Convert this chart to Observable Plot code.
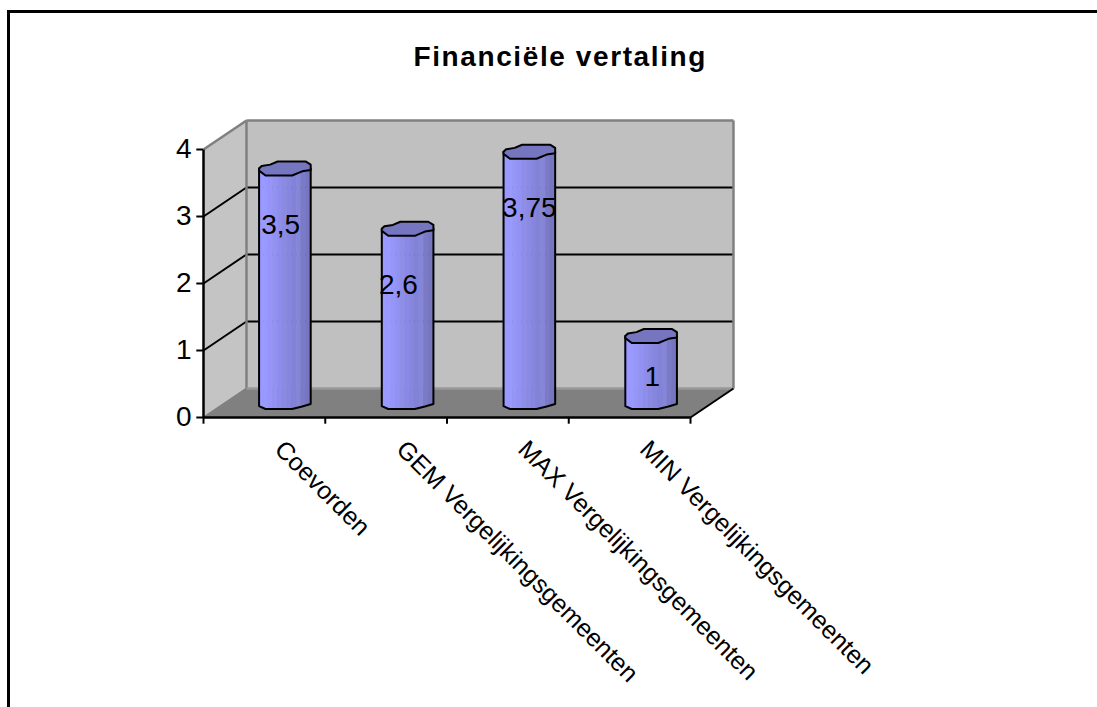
<!DOCTYPE html>
<html><head><meta charset="utf-8">
<script src="https://cdn.jsdelivr.net/npm/d3@7"></script>
<script src="https://cdn.jsdelivr.net/npm/@observablehq/plot@0.6"></script>
<style>html,body{margin:0;padding:0;background:#fff;overflow:hidden}
#frame{position:absolute;left:7px;top:10px;right:0;bottom:0;border-left:3px solid #000;border-top:3px solid #000;pointer-events:none}
#c{position:absolute;left:0;top:0}</style></head>
<body><div id="c"></div><div id="frame"></div>
<script>
const categories = ["Coevorden","GEM Vergelijkingsgemeenten","MAX Vergelijkingsgemeenten","MIN Vergelijkingsgemeenten"];
const values = [3.5,2.6,3.75,1];
const valueLabels = ["3,5","2,6","3,75","1"];
const yTicks = [0,1,2,3,4];
const title = "Financiële vertaling";

// 3D geometry, in data units
const dx = 0.353, dy = 0.433;          // depth of the box
const rx = 0.212, ry = 0.105;          // cylinder radii
const topShape = [[-1,0],[-.9,-.35],[-.57,-.55],[-.28,-1],[.8,-1],[1,-.55],[1,.2],[.67,.4],[.28,1],[-.75,1],[-1,.3]];
const frontEdge = [[-1,.45],[-.75,.85],[.28,.85],[.67,.5],[1,.15]];
const bands = ["#9999ff","#9999ff","#9696fa","#9292f2","#8e8eea","#8a8ae4","#8686de","#8282d8","#8686d8","#7a7ac6","#7575c0"];
const frontAt = u => { for (let i=1;i<frontEdge.length;i++){ if(u<=frontEdge[i][0]){const [a,b]=frontEdge[i-1],[c,d]=frontEdge[i];return b+(d-b)*(u-a)/(c-a);} } return .15; };

const cx = i => i + .5 + dx/2 - (i===0 ? .008 : 0);
const bandRects = [];
categories.forEach((c,i)=>bands.forEach((col,k)=>{
  const u0=-1+2*k/bands.length,u1=-1+2*(k+1)/bands.length,um=(u0+u1)/2;
  bandRects.push({x1:cx(i)+u0*rx,x2:cx(i)+u1*rx,y1:dy/2-frontAt(um)*ry,y2:values[i]+dy/2,col});
}));
const tops = categories.flatMap((c,i)=>topShape.concat([topShape[0]]).map(([a,b])=>({i,x:cx(i)+a*rx,y:values[i]+dy/2-b*ry})));
const bodyOutline = categories.flatMap((c,i)=>[
  [-1,values[i],0],...frontEdge.map(([a,b])=>[a,0,b]),[1,values[i],0]
].map(([a,v,b])=>({i,x:cx(i)+a*rx,y:v+dy/2-b*ry})));

const poly = (pts,fill)=>Plot.line(pts.concat([pts[0]]).map(([x,y])=>({x,y})),{x:"x",y:"y",fill,stroke:null,curve:"linear"});
const seg = (a,b,stroke,w)=>Plot.line([{x:a[0],y:a[1]},{x:b[0],y:b[1]}],{x:"x",y:"y",stroke,strokeWidth:w,strokeLinecap:"butt"});

const labelNudge=[[-.035,-.62],[-.075,-.63],[0,-.63],[.01,-.4]];
const marks=[
  poly([[dx,dy],[dx,4+dy],[4+dx,4+dy],[4+dx,dy]],"#c0c0c0"),
  poly([[0,0],[0,4],[dx,4+dy],[dx,dy]],"#c4c4c4"),
  poly([[0,0],[4,0],[4+dx,dy],[dx,dy]],"#808080"),
  ...[1,2,3].map(v=>seg([dx,v+dy],[4+dx,v+dy],"#000",2)),
  ...[1,2,3].map(v=>seg([0,v],[dx,v+dy],"#000",2)),
  seg([dx,dy],[dx,4+dy],"#808080",2.5),
  seg([dx,4+dy],[4+dx,4+dy],"#808080",2.5),
  seg([4+dx,4+dy],[4+dx,dy],"#808080",2.5),
  seg([dx,dy],[4+dx,dy],"#999",2.5),
  seg([0,4],[dx,4+dy],"#808080",2.5),
  seg([0,0],[dx,dy],"#808080",2),
  Plot.rect(bandRects,{x1:"x1",x2:"x2",y1:"y1",y2:"y2",fill:"col",stroke:"col",strokeWidth:.5}),
  Plot.line(bodyOutline,{x:"x",y:"y",z:"i",stroke:"#000",strokeWidth:2,curve:"linear"}),
  Plot.line(tops,{x:"x",y:"y",z:"i",fill:"#7676c0",stroke:"#000",strokeWidth:2,curve:"linear"}),
  seg([4,0],[4+dx,dy],"#000",2),
  seg([0,0],[4,0],"#000",2.5),
  seg([0,0],[0,4],"#000",2.5),
  Plot.ruleY(yTicks,{y:d=>d,x1:()=>-.055,x2:()=>0,stroke:"#000",strokeWidth:2}),
  Plot.text(yTicks,{y:d=>d,x:()=>0,text:d=>String(d),textAnchor:"end",dx:-12,fontSize:28,fill:"#000"}),
  Plot.ruleX([0,1,2,3,4],{x:d=>d,y1:()=>0,y2:()=>-.1,stroke:"#000",strokeWidth:2}),
  Plot.text(categories,{x:(d,i)=>i+.62,y:()=>-.41,text:d=>d,rotate:45,textAnchor:"start",fontSize:25,fill:"#000"}),
  Plot.text(values,{x:(d,i)=>cx(i)+labelNudge[i][0],y:(d,i)=>d+labelNudge[i][1],text:(d,i)=>valueLabels[i],fontSize:28,fill:"#000"}),
  Plot.text([title],{x:()=>2.93,y:()=>5.38,text:d=>d,fontWeight:"bold",fontSize:28,fill:"#000"})
];

const plot=Plot.plot({
  width:1097,height:707,
  marginLeft:203,marginRight:407,marginTop:149,marginBottom:290,
  style:{fontFamily:"'Liberation Sans',Arial,sans-serif",background:"#fff",overflow:"visible"},
  x:{type:"linear",domain:[0,4],axis:null},
  y:{type:"linear",domain:[0,4],axis:null},
  marks
});
d3.select(plot).selectAll("text").each(function(){
  if(this.textContent===title) this.style.letterSpacing="1.6px";
});
document.getElementById("c").appendChild(plot);
</script></body></html>
